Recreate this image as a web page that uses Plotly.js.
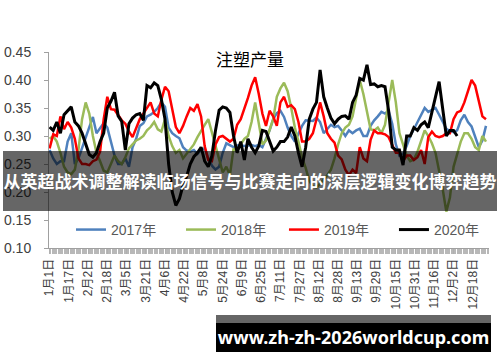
<!DOCTYPE html>
<html>
<head>
<meta charset="utf-8">
<script src="https://cdn.plot.ly/plotly-3.0.1.min.js"></script>
<style>
  html, body { margin: 0; padding: 0; background: #fff; }
  #wrap { position: relative; width: 500px; height: 362px; overflow: hidden; }
  #chart { position: absolute; left: 0; top: 0; width: 500px; height: 362px; }
  #banner { position: absolute; left: 3px; top: 151px; width: 494px; height: 60px;
    background: rgba(0,0,0,0.6); color: #fff; font-family: "Noto Sans CJK SC", sans-serif;
    font-weight: bold; font-size: 17px; line-height: 60px; text-align: center; white-space: nowrap; }
  #wmgray { position: absolute; left: 216px; top: 315px; width: 275px; height: 8px; background: rgba(0,0,0,0.6); }
  #wm { position: absolute; left: 216px; top: 323px; width: 275px; height: 29px; background: #000;
    color: #fff; font-family: "Noto Sans", "DejaVu Sans", sans-serif; font-weight: bold; font-size: 18px;
    line-height: 29px; text-align: center; white-space: nowrap; }
</style>
</head>
<body>
<div id="wrap">
  <div id="chart"></div>
  <div id="banner">从英超战术调整解读临场信号与比赛走向的深层逻辑变化博弈趋势</div>
  <div id="wmgray"></div>
  <div id="wm">www.zh-zh-2026worldcup.com</div>
</div>
<script>
// Day-of-year sampling step of the read values (one value every 3 days, starting Jan 1)
const sampleStep = 3;

const seriesNames = ["2017年", "2018年", "2019年", "2020年"];
const seriesColors = ["#4F81BD", "#9BBB59", "#FF0000", "#000000"];

const tickLabels = ["1月1日","1月17日","2月2日","2月18日","3月5日","3月21日","4月6日","4月22日",
  "5月8日","5月24日","6月9日","6月25日","7月11日","7月27日","8月12日","8月28日","9月13日",
  "9月29日","10月15日","10月31日","11月16日","12月2日","12月18日"];
const tickDays = [0,16,32,48,64,80,96,112,128,144,160,176,192,208,224,240,256,272,288,304,320,336,352];

const values2017 = [0.275,0.26,0.25,0.255,0.255,0.29,0.305,0.25,0.26,0.278,0.295,0.315,0.334,0.305,0.315,0.323,
  0.315,0.29,0.265,0.25,0.25,0.26,0.245,0.28,0.295,0.318,0.323,0.335,0.338,0.343,0.35,0.36,0.352,0.315,0.305,
  0.30,0.296,0.28,0.274,0.272,0.275,0.268,0.275,0.278,0.26,0.247,0.24,0.245,0.27,0.287,0.283,0.28,0.283,0.284,
  0.282,0.283,0.284,0.282,0.284,0.28,0.295,0.31,0.33,0.341,0.345,0.334,0.315,0.30,0.29,0.305,0.318,0.328,0.328,
  0.327,0.333,0.325,0.305,0.312,0.32,0.316,0.318,0.31,0.30,0.31,0.305,0.31,0.313,0.30,0.30,0.318,0.328,0.335,
  0.343,0.34,0.345,0.322,0.285,0.265,0.268,0.282,0.30,0.312,0.325,0.335,0.35,0.343,0.346,0.35,0.338,0.324,0.313,
  0.309,0.307,0.31,0.328,0.338,0.325,0.317,0.298,0.28,0.292,0.318];

const values2018 = [0.295,0.30,0.29,0.27,0.245,0.235,0.232,0.24,0.275,0.33,0.36,0.34,0.30,0.27,0.255,0.238,
  0.235,0.25,0.265,0.255,0.25,0.262,0.278,0.285,0.292,0.295,0.30,0.31,0.316,0.325,0.312,0.308,0.33,0.30,0.282,
  0.27,0.275,0.26,0.268,0.278,0.285,0.298,0.31,0.32,0.33,0.305,0.28,0.255,0.235,0.245,0.23,0.278,0.272,0.285,
  0.295,0.30,0.325,0.36,0.325,0.285,0.292,0.31,0.33,0.37,0.385,0.395,0.38,0.35,0.315,0.29,0.262,0.243,0.22,
  0.21,0.208,0.215,0.222,0.23,0.24,0.26,0.285,0.305,0.315,0.32,0.335,0.37,0.40,0.375,0.345,0.312,0.31,0.315,
  0.305,0.32,0.36,0.40,0.36,0.305,0.285,0.265,0.255,0.258,0.272,0.29,0.31,0.30,0.287,0.27,0.24,0.205,0.165,
  0.19,0.245,0.27,0.29,0.305,0.305,0.295,0.28,0.275,0.30,0.29];

const values2019 = [0.278,0.303,0.30,0.335,0.312,0.325,0.315,0.295,0.26,0.25,0.25,0.248,0.255,0.258,0.272,0.33,
  0.37,0.348,0.347,0.338,0.328,0.322,0.308,0.298,0.315,0.33,0.34,0.35,0.36,0.34,0.335,0.365,0.388,0.38,0.35,
  0.316,0.305,0.318,0.335,0.35,0.345,0.357,0.335,0.282,0.257,0.255,0.285,0.298,0.30,0.295,0.29,0.295,0.32,0.33,
  0.348,0.368,0.39,0.405,0.375,0.34,0.318,0.345,0.335,0.318,0.36,0.37,0.352,0.355,0.348,0.325,0.29,0.29,0.295,
  0.305,0.33,0.36,0.335,0.305,0.295,0.288,0.265,0.258,0.24,0.23,0.24,0.234,0.28,0.26,0.255,0.293,0.31,0.305,
  0.305,0.303,0.298,0.285,0.27,0.27,0.255,0.265,0.265,0.257,0.262,0.275,0.25,0.298,0.308,0.30,0.298,0.30,0.305,
  0.305,0.33,0.342,0.345,0.36,0.38,0.40,0.39,0.362,0.335,0.33];

const values2020 = [0.316,0.31,0.325,0.305,0.338,0.346,0.352,0.325,0.318,0.305,0.285,0.267,0.262,0.27,0.29,0.305,
  0.35,0.362,0.378,0.336,0.326,0.275,0.322,0.332,0.338,0.34,0.328,0.39,0.386,0.395,0.39,0.365,0.33,0.25,0.20,
  0.176,0.188,0.212,0.228,0.25,0.263,0.27,0.28,0.255,0.245,0.265,0.31,0.346,0.352,0.35,0.342,0.30,0.27,0.29,
  0.257,0.295,0.28,0.27,0.282,0.31,0.308,0.29,0.273,0.28,0.29,0.29,0.298,0.316,0.30,0.27,0.245,0.28,0.33,0.348,
  0.36,0.418,0.37,0.35,0.332,0.322,0.33,0.335,0.336,0.33,0.36,0.373,0.403,0.40,0.427,0.392,0.393,0.388,0.39,
  0.388,0.345,0.28,0.275,0.275,0.248,0.30,0.30,0.315,0.31,0.32,0.325,0.315,0.34,0.37,0.397,0.345,0.30,0.31,
  0.31,0.30];

const allValues = [values2017, values2018, values2019, values2020];
const widths = [2.5, 2.5, 2.5, 3];
const legendIds = ["legend", "legend", "legend2", "legend2"];
const legendWidths = [65, 46, 65, 46];

const traces = allValues.map((vals, s) => ({
  type: "scatter",
  mode: "lines",
  name: seriesNames[s],
  legend: legendIds[s],
  legendwidth: legendWidths[s],
  x: vals.map((_, i) => i * sampleStep),
  y: vals,
  line: { color: seriesColors[s], width: widths[s] },
  hoverinfo: "skip"
}));

const tickFont = { family: "Liberation Sans, Noto Sans CJK SC, sans-serif", size: 12, color: "#404040" };
const legendFont = { family: "Liberation Sans, Noto Sans CJK SC, sans-serif", size: 14, color: "#595959" };

const layout = {
  width: 500, height: 362,
  margin: { l: 49, r: 11, t: 52, b: 114, pad: 0 },
  paper_bgcolor: "#ffffff", plot_bgcolor: "#ffffff",
  showlegend: true,
  title: {
    text: "注塑产量",
    font: { family: "Noto Sans CJK SC, sans-serif", size: 17, color: "#000" },
    xref: "container", yref: "container", x: 0.5, y: 1 - 60 / 362, xanchor: "center", yanchor: "middle"
  },
  xaxis: {
    type: "linear", range: [-0.5, 365.5], fixedrange: true,
    tickmode: "array", tickvals: tickDays, ticktext: tickLabels, tickangle: -90,
    ticks: "outside", ticklen: 5, tickcolor: "#b0b0b0", tickwidth: 1,
    minor: { ticks: "outside", dtick: 1, tick0: 0, ticklen: 5, tickcolor: "#b8b8b8", tickwidth: 1, showgrid: false },
    showline: true, linecolor: "#a0a0a0", linewidth: 1,
    showgrid: false, zeroline: false, tickfont: tickFont
  },
  yaxis: {
    range: [0.10, 0.45], fixedrange: true,
    tickvals: [0.10, 0.15, 0.20, 0.25, 0.30, 0.35, 0.40, 0.45],
    tickformat: ".2f",
    ticks: "outside", ticklen: 4, tickcolor: "#a0a0a0",
    showline: true, linecolor: "#a0a0a0", linewidth: 1,
    showgrid: false, zeroline: false, ticklabelstandoff: 10,
    tickfont: { family: "Liberation Sans, sans-serif", size: 14, color: "#404040" }
  },
  legend: {
    orientation: "h", x: 0.05, xanchor: "left", y: 0.092, yanchor: "middle",
    entrywidthmode: "pixels", bgcolor: "rgba(0,0,0,0)",
    font: legendFont, traceorder: "normal"
  },
  legend2: {
    orientation: "h", x: 0.534, xanchor: "left", y: 0.092, yanchor: "middle",
    entrywidthmode: "pixels", bgcolor: "rgba(0,0,0,0)",
    font: legendFont, traceorder: "normal"
  }
};

Plotly.newPlot("chart", traces, layout, { staticPlot: true, displayModeBar: false });
</script>
</body>
</html>
